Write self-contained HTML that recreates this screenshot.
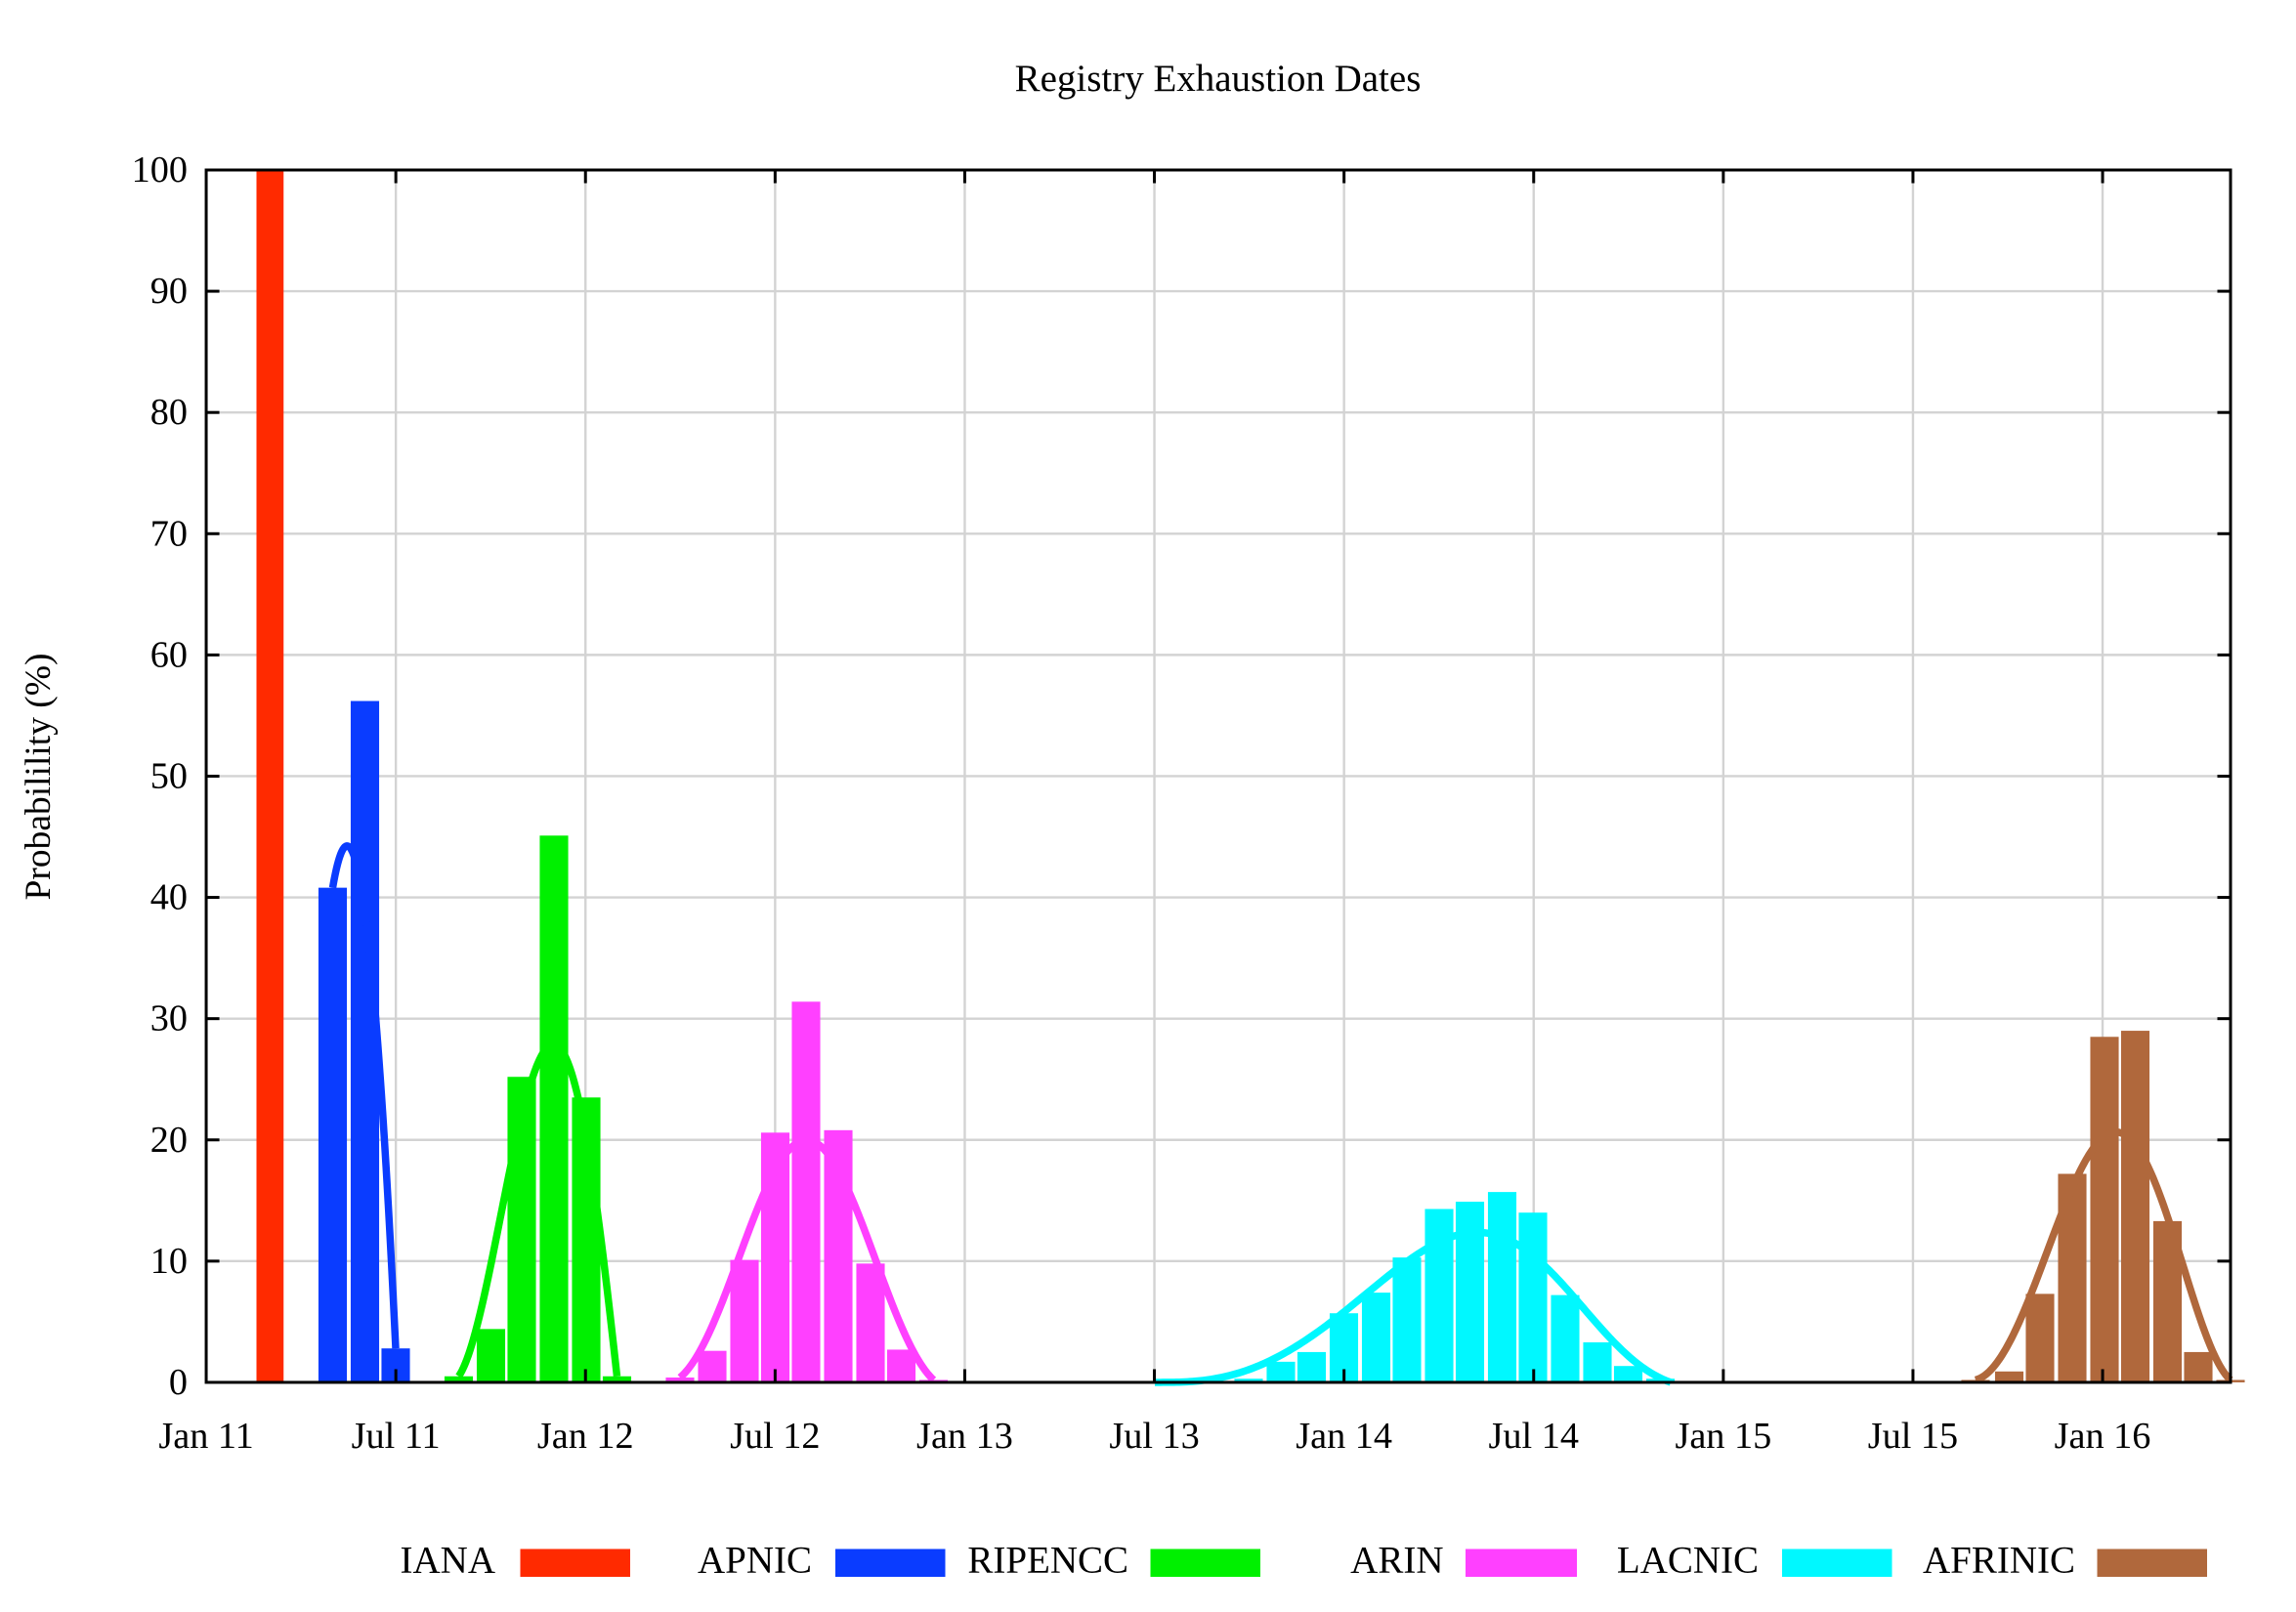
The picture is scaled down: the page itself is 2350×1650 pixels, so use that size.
<!DOCTYPE html>
<html><head><meta charset="utf-8"><style>
html,body{margin:0;padding:0;background:#fff;}
svg{display:block;}
text{font-family:"Liberation Serif","DejaVu Serif",serif;fill:#000;}
</style></head><body>
<svg id="s" width="2350" height="1650" viewBox="0 0 1566.667 1100" xmlns="http://www.w3.org/2000/svg">
<rect width="1566.667" height="1100" fill="#fff"/>
<g id="grid" stroke="#d3d3d3" stroke-width="1.6"></g>
<g id="bars"></g>
<g id="curves" fill="none" stroke-width="5" stroke-linejoin="round"></g>
<g id="axes" stroke="#000" stroke-width="2" fill="none"></g>
<g id="labels" font-size="25.5"></g>
<text x="831" y="62" font-size="26" text-anchor="middle">Registry Exhaustion Dates</text>
<text transform="translate(34,530) rotate(-90)" font-size="25" text-anchor="middle">Probabilility (%)</text>
<g font-size="26" text-anchor="end">
<text x="338" y="1073">IANA</text><rect x="355" y="1057" width="75" height="19" fill="#ff2a00"/>
<text x="554" y="1073">APNIC</text><rect x="570" y="1057" width="75" height="19" fill="#0a3cff"/>
<text x="770" y="1073">RIPENCC</text><rect x="785" y="1057" width="75" height="19" fill="#00f000"/>
<text x="985" y="1073">ARIN</text><rect x="1000" y="1057" width="76" height="19" fill="#ff40ff"/>
<text x="1200" y="1073">LACNIC</text><rect x="1216" y="1057" width="75" height="19" fill="#00f8ff"/>
<text x="1416" y="1073">AFRINIC</text><rect x="1431" y="1057" width="75" height="19" fill="#b0683c"/>
</g>
</svg>
<script>
var NS="http://www.w3.org/2000/svg";
function el(p,t,a,txt){var e=document.createElementNS(NS,t);for(var k in a)e.setAttribute(k,a[k]);if(txt!=null)e.textContent=txt;document.getElementById(p).appendChild(e);return e;}
var L=140.7,R=1522,T=116,B=943.3;
function Y(v){return B-(B-T)*v/100;}
function X(k){return L+129.4*k;}
for(var i=1;i<10;i++){el("grid","line",{x1:L,x2:R,y1:Y(i*10),y2:Y(i*10)});}
for(var k=1;k<=10;k++){el("grid","line",{x1:X(k),x2:X(k),y1:T,y2:B});}
function binom(n,k){var r=1;for(var i=1;i<=k;i++)r=r*(n-k+i)/i;return r;}
function series(color,pts,curvePts){
  pts.forEach(function(p){el("bars","rect",{x:p[0]-9.7,y:Y(p[1]),width:19.4,height:B-Y(p[1]),fill:color});});
  var cp=curvePts||pts;var n=cp.length-1;var d="";
  for(var s=0;s<=200;s++){var t=s/200,x=0,y=0;
    for(var j=0;j<=n;j++){var b=binom(n,j)*Math.pow(t,j)*Math.pow(1-t,n-j);x+=b*cp[j][0];y+=b*cp[j][1];}
    d+=(s?"L":"M")+x.toFixed(2)+","+Y(y).toFixed(2);}
  el("curves","path",{d:d,stroke:color});
}
el("bars","rect",{x:175,y:T,width:18.5,height:B-T,fill:"#ff2a00"});
series("#0a3cff",[[227,40.8],[249,56.2],[270,2.8]]);
series("#00f000",[[313,0.5],[335,4.4],[356,25.2],[378,45.1],[400,23.5],[421,0.5]]);
series("#ff40ff",[[464,0.4],[486,2.6],[508,10.1],[529,20.6],[550,31.4],[572,20.8],[594,9.8],[615,2.7],[637,0.2]]);
var cy=[[852,0.3],[874,1.7],[895,2.5],[917,5.7],[939,7.4],[960,10.3],[982,14.3],[1003,14.9],[1025,15.7],[1046,14.0],[1068,7.2],[1090,3.3],[1111,1.35],[1133,0.3]];
series("#00f8ff",cy,[[788,0],[810,0],[831,0]].concat(cy).concat([[1140,0]]));
series("#b0683c",[[1348,0.2],[1371,0.9],[1392,7.3],[1414,17.2],[1436,28.5],[1457,29.0],[1479,13.3],[1500,2.5],[1522,0.2]]);
el("axes","rect",{x:L,y:T,width:R-L,height:B-T});
for(var i=1;i<10;i++){el("axes","line",{x1:L,x2:L+9,y1:Y(i*10),y2:Y(i*10)});el("axes","line",{x1:R,x2:R-9,y1:Y(i*10),y2:Y(i*10)});}
for(var k=1;k<=10;k++){el("axes","line",{x1:X(k),x2:X(k),y1:T,y2:T+9});el("axes","line",{x1:X(k),x2:X(k),y1:B,y2:B-9});}
for(var i=0;i<=10;i++){el("labels","text",{x:128,y:Y(i*10)+8,"text-anchor":"end"},String(i*10));}
var xl=["Jan 11","Jul 11","Jan 12","Jul 12","Jan 13","Jul 13","Jan 14","Jul 14","Jan 15","Jul 15","Jan 16"];
for(var k=0;k<=10;k++){el("labels","text",{x:X(k),y:988,"text-anchor":"middle"},xl[k]);}
</script>
</body></html>
